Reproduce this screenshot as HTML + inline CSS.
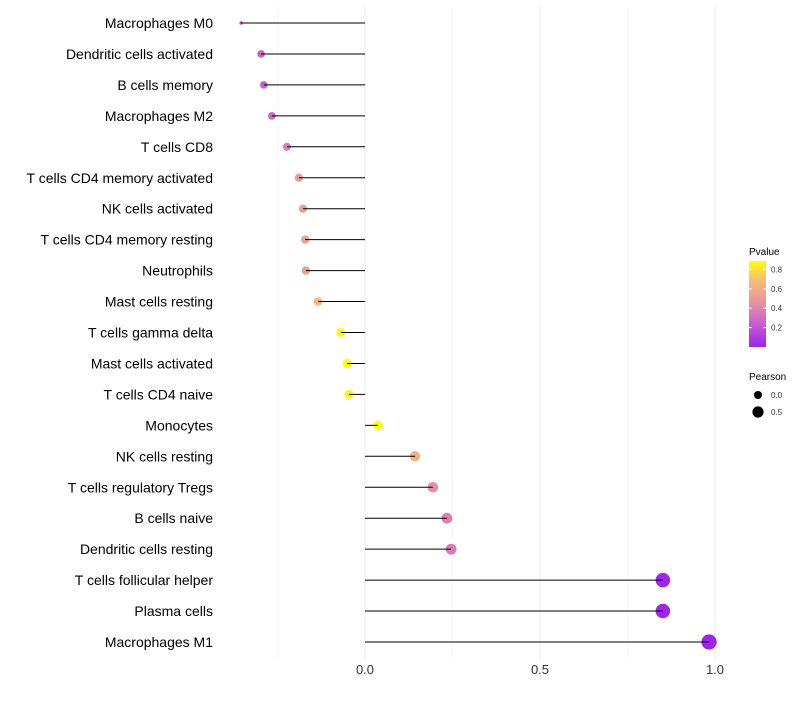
<!DOCTYPE html>
<html><head><meta charset="utf-8"><style>
body{margin:0;background:#fff;font-family:"Liberation Sans",sans-serif}
</style></head><body>
<svg id="chart" width="800" height="700" xmlns="http://www.w3.org/2000/svg"></svg>
<script>
const categories=["Macrophages M0","Dendritic cells activated","B cells memory","Macrophages M2","T cells CD8","T cells CD4 memory activated","NK cells activated","T cells CD4 memory resting","Neutrophils","Mast cells resting","T cells gamma delta","Mast cells activated","T cells CD4 naive","Monocytes","NK cells resting","T cells regulatory  Tregs ","B cells naive","Dendritic cells resting","T cells follicular helper","Plasma cells","Macrophages M1"];
const pearson=[-0.354,-0.297,-0.289,-0.266,-0.223,-0.189,-0.177,-0.171,-0.169,-0.134,-0.069,-0.051,-0.046,0.037,0.143,0.194,0.234,0.246,0.851,0.851,0.983];
const pvalue=[0.15,0.25,0.25,0.28,0.38,0.5,0.52,0.53,0.53,0.68,0.88,0.9,0.9,0.92,0.62,0.45,0.38,0.36,0.01,0.01,0.002];
const xTicks=[0,0.5,1.0];
const xTickLabels=["0.0","0.5","1.0"];
const pTicks=[0.2,0.4,0.6,0.8];
const NS="http://www.w3.org/2000/svg";
const svg=document.getElementById('chart');
const X=v=>365+v*350;
const Y=i=>23+i*30.95;
const pmin=Math.min(...pearson);
const R=v=>v===pmin?1.7:Math.max(3,4.7+v*3);
function lerp(a,b,t){return a.map((x,i)=>Math.round(x+(b[i]-x)*t));}
function col(p){const s=[[0,[160,32,240]],[0.28,[205,105,200]],[0.5,[235,155,150]],[0.7,[244,192,118]],[0.89,[255,255,0]]];
 p=Math.max(0,Math.min(0.89,p));for(let i=0;i<s.length-1;i++){if(p<=s[i+1][0]){const c=lerp(s[i][1],s[i+1][1],(p-s[i][0])/(s[i+1][0]-s[i][0]));return `rgb(${c})`;}}return 'rgb(255,255,0)';}
function el(t,a,p){const e=document.createElementNS(NS,t);for(const k in a)e.setAttribute(k,a[k]);(p||svg).appendChild(e);return e;}
const grid=el('g',{});
[-0.25,0.25,0.75].forEach(v=>el('line',{x1:X(v),x2:X(v),y1:5,y2:660,stroke:'#f4f4f4','stroke-width':0.6},grid));
xTicks.forEach(v=>el('line',{x1:X(v),x2:X(v),y1:5,y2:660,stroke:'#ededed','stroke-width':1.1},grid));
const xa=el('g',{});
xTicks.forEach((v,i)=>{const t=el('text',{x:X(v),y:674,'text-anchor':'middle','font-size':13,fill:'#333'},xa);t.textContent=xTickLabels[i];});
categories.forEach((c,i)=>{
 const g=el('g',{});
 const lb=el('text',{x:213,y:Y(i)+5,'text-anchor':'end','font-size':14,fill:'#000','xml:space':'preserve'},g);lb.textContent=c;
 el('circle',{cx:X(pearson[i]),cy:Y(i),r:R(pearson[i]),fill:col(pvalue[i])},g);
 el('line',{x1:X(0),x2:X(pearson[i]),y1:Y(i),y2:Y(i),stroke:'#000','stroke-width':1},g);
});
const lg=el('g',{});
el('text',{x:749,y:255,'font-size':10,fill:'#000'},lg).textContent='Pvalue';
const defs=el('defs',{});const gr=el('linearGradient',{id:'pg',x1:0,y1:1,x2:0,y2:0},defs);
for(let k=0;k<=10;k++){const p=k/10*0.89;el('stop',{offset:k/10,'stop-color':col(p)},gr);}
el('rect',{x:749,y:261,width:17,height:86,fill:'url(#pg)'},lg);
pTicks.forEach(p=>{const y=347-p*97;el('line',{x1:749,x2:752,y1:y,y2:y,stroke:'#fff'},lg);el('line',{x1:763,x2:766,y1:y,y2:y,stroke:'#fff'},lg);el('text',{x:771,y:y+3,'font-size':8,fill:'#333'},lg).textContent=p.toFixed(1);});
const sl=el('g',{});
el('text',{x:749,y:380,'font-size':10,fill:'#000'},sl).textContent='Pearson';
el('circle',{cx:758,cy:395,r:4,fill:'#000'},sl);el('text',{x:771,y:398,'font-size':8,fill:'#333'},sl).textContent='0.0';
el('circle',{cx:758,cy:412,r:5.6,fill:'#000'},sl);el('text',{x:771,y:415,'font-size':8,fill:'#333'},sl).textContent='0.5';
</script></body></html>
